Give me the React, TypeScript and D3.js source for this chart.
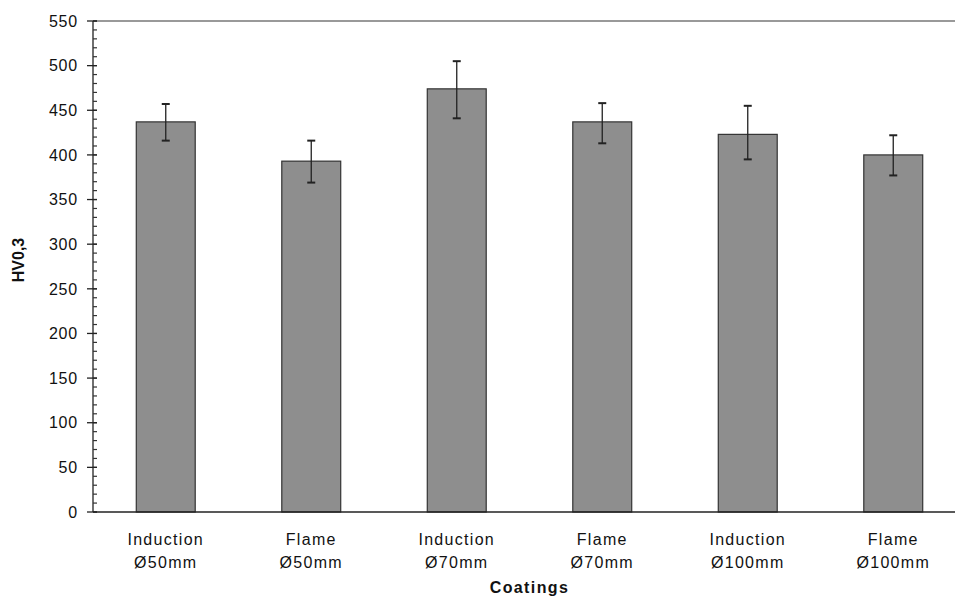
import React, { useEffect, useRef } from 'react';
import * as d3 from 'd3';

const width = 955;
const height = 597;
const margin = { top: 21, right: -11, bottom: 85, left: 93 };

const categories = ['Induction Ø50mm', 'Flame Ø50mm', 'Induction Ø70mm', 'Flame Ø70mm', 'Induction Ø100mm', 'Flame Ø100mm'];
const hardness = [437, 393, 474, 437, 423, 400];
const errHigh = [457, 416, 505, 458, 455, 422];
const errLow = [416, 369, 441, 413, 395, 377];
const yTicks = [0, 50, 100, 150, 200, 250, 300, 350, 400, 450, 500, 550];

const App = () => {
  const svgRef = useRef<SVGSVGElement>(null);

  useEffect(() => {
    const svg = d3.select(svgRef.current);
    svg.selectAll('*').remove();

    const x = d3.scaleBand()
      .domain(categories)
      .range([margin.left, width - margin.right])
      .paddingInner(0.595)
      .paddingOuter(0.2975);

    const y = d3.scaleLinear()
      .domain([0, 550])
      .range([height - margin.bottom, margin.top]);

    const font = 'Liberation Sans, Arial, sans-serif';

    // top border
    svg.append('line')
      .attr('x1', margin.left).attr('x2', width)
      .attr('y1', y(550)).attr('y2', y(550))
      .attr('stroke', '#777').attr('stroke-width', 1.5);

    // bars
    svg.selectAll('.bar')
      .data(categories)
      .enter().append('rect')
      .attr('x', d => x(d)!)
      .attr('y', (d, i) => y(hardness[i]))
      .attr('width', x.bandwidth())
      .attr('height', (d, i) => y(0) - y(hardness[i]))
      .attr('fill', '#8e8e8e')
      .attr('stroke', '#333')
      .attr('stroke-width', 1.2);

    // error bars
    const eb = svg.append('g').attr('stroke', '#222').attr('stroke-width', 1.3);
    categories.forEach((c, i) => {
      const cx = x(c)! + x.bandwidth() / 2;
      eb.append('line').attr('x1', cx).attr('x2', cx).attr('y1', y(errHigh[i])).attr('y2', y(errLow[i]));
      eb.append('line').attr('x1', cx - 4).attr('x2', cx + 4).attr('y1', y(errHigh[i])).attr('y2', y(errHigh[i])).attr('stroke-width', 2);
      eb.append('line').attr('x1', cx - 4).attr('x2', cx + 4).attr('y1', y(errLow[i])).attr('y2', y(errLow[i])).attr('stroke-width', 2);
    });

    // y axis
    const ax = svg.append('g');
    ax.append('line')
      .attr('x1', margin.left).attr('x2', margin.left)
      .attr('y1', y(550)).attr('y2', y(0))
      .attr('stroke', '#222').attr('stroke-width', 1.3);
    ax.selectAll('.minor')
      .data(d3.range(0, 551, 10))
      .enter().append('line')
      .attr('x1', margin.left).attr('x2', margin.left + 4)
      .attr('y1', d => y(d)).attr('y2', d => y(d))
      .attr('stroke', '#333').attr('stroke-width', 1.2);
    ax.selectAll('.major')
      .data(yTicks)
      .enter().append('line')
      .attr('x1', margin.left - 6).attr('x2', margin.left + 4)
      .attr('y1', d => y(d)).attr('y2', d => y(d))
      .attr('stroke', '#222').attr('stroke-width', 1.3);
    ax.selectAll('.lbl')
      .data(yTicks)
      .enter().append('text')
      .attr('x', margin.left - 15)
      .attr('y', d => y(d))
      .attr('dy', '0.36em')
      .attr('text-anchor', 'end')
      .attr('font-family', font)
      .attr('font-size', 16)
      .attr('letter-spacing', 0.8)
      .attr('fill', '#111')
      .text(d => d);

    // x axis
    svg.append('line')
      .attr('x1', margin.left).attr('x2', width)
      .attr('y1', y(0)).attr('y2', y(0))
      .attr('stroke', '#222').attr('stroke-width', 1.3);

    categories.forEach(c => {
      const cx = x(c)! + x.bandwidth() / 2;
      const parts = c.split(' ');
      const t = svg.append('text')
        .attr('text-anchor', 'middle')
        .attr('font-family', font)
        .attr('font-size', 16)
        .attr('letter-spacing', 1.3)
        .attr('fill', '#111');
      t.append('tspan').attr('x', cx).attr('y', 545).text(parts[0]);
      t.append('tspan').attr('x', cx).attr('y', 568).text(parts[1]);
    });

    svg.append('text')
      .attr('x', (margin.left + width - margin.right) / 2)
      .attr('y', 593)
      .attr('text-anchor', 'middle')
      .attr('font-family', font)
      .attr('font-weight', 'bold')
      .attr('font-size', 16)
      .attr('letter-spacing', 1.4)
      .attr('fill', '#111')
      .text('Coatings');

    svg.append('text')
      .attr('transform', 'rotate(-90)')
      .attr('x', -260)
      .attr('y', 24)
      .attr('text-anchor', 'middle')
      .attr('font-family', font)
      .attr('font-weight', 'bold')
      .attr('font-size', 16)
      .attr('fill', '#111')
      .text('HV0,3');
  }, []);

  return (
    <svg ref={svgRef} width={width} height={height}
      style={{ position: 'absolute', left: 0, top: 0, background: '#fff' }} />
  );
};

export default App;
